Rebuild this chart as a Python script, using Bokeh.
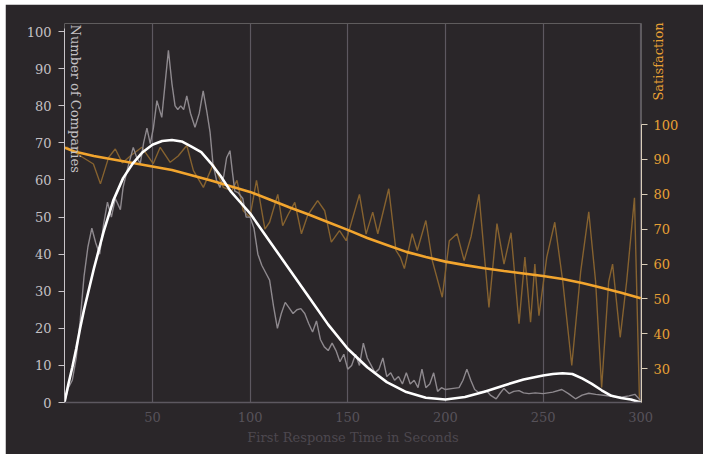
import math
from bokeh.plotting import figure
from bokeh.models import Range1d, LinearAxis, FixedTicker, Label
from bokeh.embed import file_html
from bokeh.resources import INLINE

# ---------------- data ----------------
# Number of companies (raw, noisy)
companies_x = [5, 7, 9, 11, 13, 15, 17, 19, 21, 23, 25, 27, 29, 31, 33.6, 35, 37, 40.2, 42, 43.8,
               45.5, 47.2, 48.9, 50.5, 52.3, 54.8, 56.5, 58.2, 60, 61.6, 63, 64.5, 66, 67.6, 69.5, 71.8, 74, 76, 78, 79.5,
               81, 82.8, 84.6, 86.5, 88, 89.7, 91, 92.2, 94, 96.3, 98, 100, 102, 104, 106, 108, 110, 112, 114, 116,
               118, 120, 122, 124, 126, 128, 130, 132, 134, 136, 138, 140, 142, 144, 146, 148, 150, 152, 154, 156,
               158, 160, 162, 164, 166, 168, 170, 172, 174, 176, 178, 180, 182, 184, 186, 188, 190, 192, 194, 196,
               198, 200, 204, 207, 209, 211, 213, 215, 217, 219, 221, 223, 226, 228, 230, 232.6, 235, 237.7, 240, 242.8,
               246, 250, 255, 259.6, 263, 266.6, 270, 273.4, 277, 282, 286, 290, 294, 297, 300]
companies_y = [0, 4, 6, 12, 22, 34, 42, 47, 43, 40, 48, 54, 50, 55, 52, 58, 62.5, 68.8, 66, 64.4,
               70, 74, 69.8, 74, 81.4, 76.9, 86, 95, 86, 80, 79, 80, 79, 82.7, 78, 74.2, 78, 84, 78, 73,
               64.4, 60, 58, 61, 66, 67.9, 62, 57, 56.5, 55, 50, 50, 47, 40, 37, 35, 33, 26, 20, 24,
               27, 25.5, 24, 25, 25.3, 24, 21.3, 19, 22, 17, 15, 14, 16, 14, 11, 13, 9, 10, 13, 10,
               16, 12, 10, 8, 9, 12, 7, 8, 6, 7, 5, 8, 5, 6, 4, 9, 4, 5, 8, 3,
               4, 3.5, 3.8, 4, 6, 9, 6, 3.5, 2.7, 3, 3.2, 2, 1, 2.5, 3.8, 2.4, 3, 3.2, 2.6, 2.4,
               2.6, 2.4, 2.8, 3.5, 2.4, 1, 2, 2.5, 2.2, 1.9, 1.6, 1.4, 1.8, 2.2, 0.5]

# Number of companies (smooth fit)
fit_x = [5, 7, 9, 11, 13, 15, 20, 25, 30, 35, 40, 45, 50, 55, 60, 65, 70, 75, 80, 85,
         90, 95, 100, 110, 120, 130, 140, 150, 160, 170, 180, 190, 200, 210, 220, 230, 240, 250, 255, 260,
         265, 270, 275, 280, 285, 290, 295, 300]
fit_y = [0, 5, 9.5, 14.5, 20, 25, 36, 46, 54.5, 60.5, 64.5, 67.5, 69.5, 70.5, 70.8, 70.4, 69, 67.5, 64.5, 61,
         57, 54, 51, 43.5, 36, 28.5, 21, 14.5, 9.5, 5.5, 2.8, 1.3, 0.8, 1.5, 2.9, 4.6, 6.2, 7.3, 7.7, 7.9,
         7.7, 6.5, 5, 3.3, 1.8, 1.2, 0.8, 0]

# Satisfaction (raw, noisy)
sat_x = [5, 6.4, 13.2, 19.8, 23.4, 27.6, 31, 34.6, 38.7, 44.6, 50.4, 54, 59.1, 63.2, 67.6, 71, 76.1, 81.2, 86.3, 90.6,
         93.3, 96.5, 99.9, 103.3, 107.6, 110, 114.2, 116.7, 119.3, 122.9, 126.3, 129.5, 134.6, 138.2, 141.6, 145.8, 149.2, 156, 159.4, 162.8,
         165.4, 171, 174.7, 176.9, 179, 183, 185.6, 190, 193.3, 198.4, 202, 206, 209.6, 213.2, 217.2, 222.3, 226.4, 230, 233.6, 237.7,
         240.7, 243.6, 245.8, 247.9, 251.9, 256, 260.1, 264.7, 269.3, 273.4, 276.9, 280, 283.6, 285.6, 289.5, 292.8, 296.8, 299.4]
sat_y = [93.4, 93.5, 91, 88.7, 83, 90.6, 93, 89, 91, 93.5, 88.8, 93.5, 89.2, 91, 94, 86.8, 82, 88.7, 82, 81,
         84, 75.3, 73.4, 84, 70, 72, 80, 71, 74, 77.7, 68.7, 74, 78.2, 75.3, 66.3, 69.6, 66.7, 80, 68.6, 74.9,
         68.7, 81.6, 63.9, 62, 58.7, 68.7, 63.9, 72.5, 61, 50.5, 66.7, 68.7, 61, 68, 80, 47.6, 71.6, 60, 69, 42.9,
         62, 43.3, 60, 45.2, 62, 72, 55, 30.9, 58, 75, 55, 24.6, 55, 60, 39, 55, 79, 20]

# Satisfaction (smooth fit)
satfit_x = [5, 10, 20, 30, 40, 50, 60, 70, 80, 90, 100, 110, 120, 130, 140, 150, 160, 170, 180, 190,
            200, 210, 220, 230, 240, 250, 260, 270, 280, 290, 300]
satfit_y = [93.4, 92.3, 91, 90, 89, 88, 87, 85.5, 84, 82.3, 80.7, 78.5, 76.3, 74.2, 72, 69.8, 67.5, 65.5, 63.5, 62,
            60.7, 59.7, 58.8, 58, 57.3, 56.6, 55.7, 54.6, 53.2, 51.8, 50.2]

x_ticks = [50, 100, 150, 200, 250, 300]
left_ticks = [0, 10, 20, 30, 40, 50, 60, 70, 80, 90, 100]
right_ticks = [30, 40, 50, 60, 70, 80, 90, 100]

# ---------------- styles ----------------
BG = "#2a2629"
FONT = "DejaVu Serif"

p = figure(width=698, height=450, margin=(4, 4, 4, 5),
           output_backend="svg", toolbar_location=None,
           x_range=Range1d(5, 300.4), y_range=Range1d(0, 102.2),
           min_border_left=59, min_border_right=62, min_border_top=19, min_border_bottom=52)
p.background_fill_color = BG
p.border_fill_color = BG
p.outline_line_color = None

p.extra_y_ranges = {"sat": Range1d(20.3, 129)}

# grid
p.ygrid.visible = False
p.xgrid.ticker = FixedTicker(ticks=x_ticks)
p.xgrid.grid_line_color = "#5d5860"
p.xgrid.grid_line_width = 1.2

# bottom axis
xa = p.xaxis[0]
xa.ticker = FixedTicker(ticks=x_ticks)
xa.axis_line_color = "#5d5860"
xa.axis_line_width = 1.5
xa.major_tick_line_color = None
xa.major_tick_out = 0
xa.major_tick_in = 0
xa.minor_tick_line_color = None
xa.major_label_text_color = "#57525a"
xa.major_label_text_font = FONT
xa.major_label_text_font_size = "13px"
xa.major_label_standoff = 9
xa.axis_label = "First Response Time in Seconds"
xa.axis_label_text_color = "#4d484f"
xa.axis_label_text_font = FONT
xa.axis_label_text_font_style = "normal"
xa.axis_label_text_font_size = "13px"
xa.axis_label_standoff = 5

# left axis
ya = p.yaxis[0]
ya.ticker = FixedTicker(ticks=left_ticks)
ya.bounds = (0, 100.8)
ya.axis_line_color = "#c8c4c8"
ya.major_tick_line_color = "#c8c4c8"
ya.major_tick_out = 6
ya.major_tick_in = 0
ya.minor_tick_line_color = None
ya.major_label_text_color = "#c4c0c4"
ya.major_label_text_font = FONT
ya.major_label_text_font_size = "13px"
ya.major_label_standoff = 7

# right axis
ra = LinearAxis(y_range_name="sat")
ra.ticker = FixedTicker(ticks=right_ticks)
ra.bounds = (20.3, 100)
ra.axis_line_color = "#d9cdb8"
ra.major_tick_line_color = "#d9cdb8"
ra.major_tick_out = 6
ra.major_tick_in = 0
ra.minor_tick_line_color = None
ra.major_label_text_color = "#e8a035"
ra.major_label_text_font = FONT
ra.major_label_text_font_size = "13px"
ra.major_label_standoff = 6
p.add_layout(ra, "right")

# lines
p.line(sat_x, sat_y, y_range_name="sat", line_color="#86622f", line_width=1.4)
p.line(companies_x, companies_y, line_color="#8e898e", line_width=1.4)
p.line(satfit_x, satfit_y, y_range_name="sat", line_color="#f2a52e", line_width=2.6)
p.line(fit_x, fit_y, line_color="#ffffff", line_width=2.6)

# axis titles
p.add_layout(Label(x=10.6, y=101.9, text="Number of Companies", angle=-math.pi / 2,
                   text_align="left", text_baseline="middle", text_color="#c4c0c4",
                   text_font=FONT, text_font_size="13px"))
p.add_layout(Label(x=309, y=106.9, y_range_name="sat", text="Satisfaction", angle=math.pi / 2,
                   text_align="left", text_baseline="middle", text_color="#e8a035",
                   text_font=FONT, text_font_size="13px"), "right")

open("out.html", "w").write(file_html(p, INLINE))
